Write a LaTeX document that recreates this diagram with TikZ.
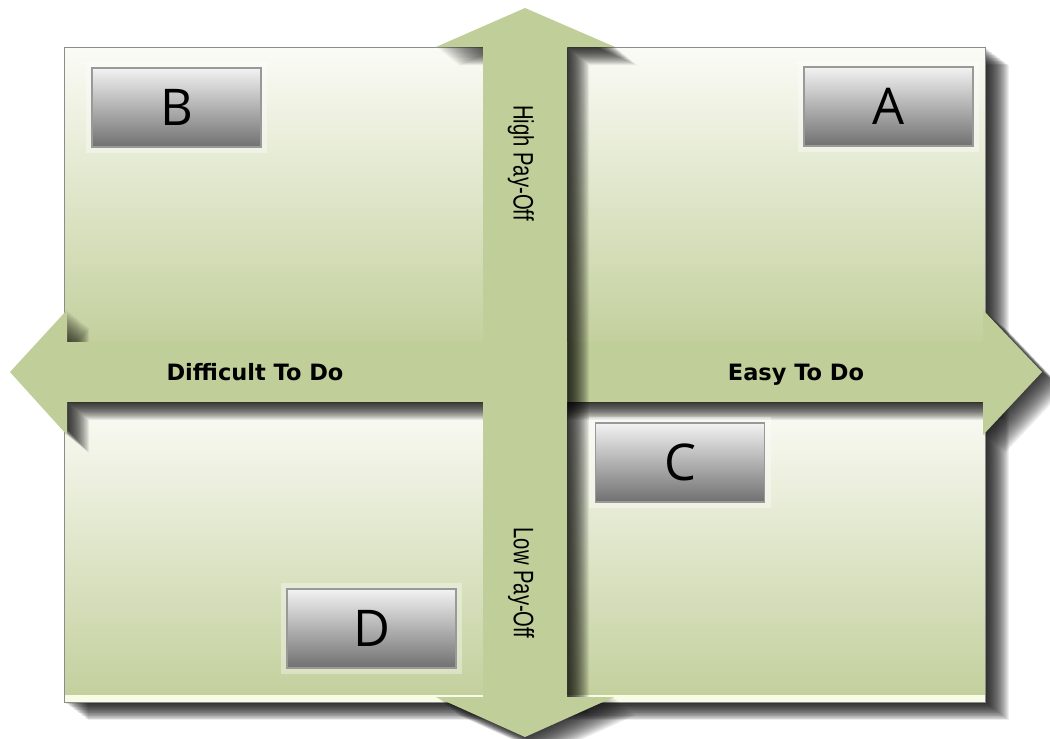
\documentclass[tikz,border=0pt]{standalone}
\usepackage{fontspec}
\setmainfont{DejaVu Sans}
\newfontfamily\letterfont{Open Sans}
\newfontfamily\payofffont{Liberation Sans}

\definecolor{arrowgreen}{RGB}{192,206,153}
\definecolor{paneltop}{RGB}{251,251,246}
\definecolor{panelbot}{RGB}{195,208,157}
\definecolor{panelstrip}{RGB}{248,252,230}
\definecolor{framegray}{RGB}{140,140,140}

% outlines of the two axis arrows (pixel units)
\newcommand{\horizarrow}{(10,372) -- (67,310) -- (67,342) -- (983,342) -- (983,310) -- (1042,372) -- (983,435) -- (983,402) -- (67,402) -- (67,435) -- cycle}
\newcommand{\vertarrow}{(525,8) -- (615,47) -- (567,47) -- (567,697) -- (614,697) -- (525,737) -- (436,697) -- (483,697) -- (483,47) -- (436,47) -- cycle}

\tikzset{
  panel/.style={top color=paneltop, bottom color=panelbot, draw=framegray, line width=0.6pt},
  smear/.style={fill=black, opacity=0.065},
  axisarrow/.style={fill=arrowgreen},
  button/.style={draw=gray!80, line width=0.8pt, top color=black!5, bottom color=black!56,
    minimum width=4.225cm, minimum height=1.975cm, inner sep=0pt,
    font=\letterfont\fontsize{36}{36}\selectfont,
    preaction={draw=white, opacity=0.35, line width=9pt}},
  axislabel/.style={anchor=base, font=\bfseries\fontsize{16}{16}\selectfont, inner sep=1pt},
  payofflabel/.style={rotate=-90, font=\payofffont\fontsize{20}{20}\selectfont, inner sep=1pt}
}

\begin{document}
\begin{tikzpicture}[x=0.025cm, y=-0.025cm]
	\useasboundingbox (0,0) rectangle (1050,738);
	
	% shadow of the whole board
	\foreach \s in {1,...,24}
		\fill[smear] (64+\s,47+0.75*\s) rectangle (985+\s,702+0.75*\s);
	
	% the four quadrants
	\draw[panel] (64,47) rectangle (483,342);
	\draw[panel] (567,47) rectangle (985,342);
	\draw[panel] (64,402) rectangle (483,695);
	\draw[panel] (567,402) rectangle (985,695);
	\fill[panelstrip] (64,695) rectangle (483,702);
	\fill[panelstrip] (567,695) rectangle (985,702);
	\draw[framegray, line width=0.6pt] (64,47) rectangle (985,702);
	
	% horizontal arrow
	\foreach \s in {1,...,20}
		\fill[smear, shift={(1.1*\s,0.9*\s)}] \horizarrow;
	\fill[axisarrow] \horizarrow;
	
	% vertical arrow
	\foreach \s in {1,...,20}
		\fill[smear, shift={(1.1*\s,0.9*\s)}] \vertarrow;
	\fill[axisarrow] \vertarrow;
	
	% quadrant buttons
	\node[button] (btnB) at (176.5,107.5) {B};
	\node[button] (btnA) at (888.5,106.5) {A};
	\node[button] (btnC) at (680,462.5) {C};
	\node[button] (btnD) at (371.5,628.5) {D};
	
	% axis texts
	\node[axislabel] (difficult) at (255,380) {Difficult To Do};
	\node[axislabel] (easy) at (796,380) {Easy To Do};
	\node[payofflabel] (highpay) at (521,163) {\scalebox{0.72}[1]{High Pay-Off}};
	\node[payofflabel] (lowpay) at (521,583) {\scalebox{0.72}[1]{Low Pay-Off}};
	
\end{tikzpicture}
\end{document}
